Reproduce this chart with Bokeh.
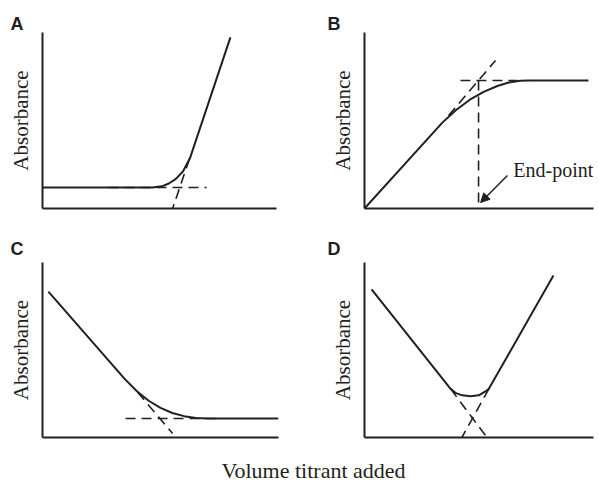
from bokeh.plotting import figure
from bokeh.layouts import column, row
from bokeh.models import Range1d, FixedTicker, Label, Arrow, NormalHead
from bokeh.embed import file_html
from bokeh.resources import INLINE

INK = "#231f20"
SERIF = "Liberation Serif"

# ---- Panel A: flat, then rising ----
A_x = [0, 47, 51, 54, 57, 60, 63, 80.3]
A_y = [11.9, 11.9, 12.6, 14.2, 16.8, 21.0, 28.5, 97.2]
A_dash_h_x = [28.2, 70.1]
A_dash_h_y = [11.9, 11.9]
A_dash_d_x = [62.8, 55.6]
A_dash_d_y = [28.2, 0]

# ---- Panel B: rising, then flat ----
B_x = [0, 34, 40, 46, 52, 58, 63, 68, 72, 97.8]
B_y = [0, 48.8, 56.0, 61.8, 66.3, 69.6, 71.6, 72.6, 72.7, 72.7]
B_dash_d_x = [36.7, 57.2]
B_dash_d_y = [52.8, 84.1]
B_dash_h_x = [41.9, 66.8]
B_dash_h_y = [72.7, 72.7]
B_dash_v_x = [49.8, 49.8]
B_dash_v_y = [72.7, 0]
B_endpoint_label = "End-point"
B_label_xy = (65.0, 22.0)
B_arrow_start = (62.4, 18.8)
B_arrow_end = (50.7, 3.4)

# ---- Panel C: falling, then flat ----
C_x = [2.5, 35, 40, 45, 50, 55, 60, 65, 70, 100]
C_y = [83.4, 33.2, 26.4, 21.0, 16.9, 14.0, 12.2, 11.2, 10.9, 10.9]
C_dash_h_x = [35.2, 74.6]
C_dash_h_y = [10.9, 10.9]
C_dash_d_x = [40.3, 55.1]
C_dash_d_y = [25.9, 2.3]

# ---- Panel D: falling, then rising ----
D_x = [3.1, 37.6, 39.7, 42.7, 46.3, 49.9, 52.8, 54.3, 82.5]
D_y = [84.6, 27.8, 25.5, 24.1, 23.6, 24.1, 26.3, 27.8, 92.6]
D_dash_l_x = [37.6, 53.5]
D_dash_l_y = [27.8, 0]
D_dash_r_x = [54.3, 42.5]
D_dash_r_y = [27.8, 0]

panel_letters = ["A", "B", "C", "D"]
y_label = "Absorbance"
x_label = "Volume titrant added"

DASH = "10 6"


def make_panel(letter, width, height, bl, br, bt, bb, title_offset, title_standoff):
    p = figure(width=width, height=height, output_backend="svg",
               toolbar_location=None, x_range=Range1d(0, 100),
               y_range=Range1d(0, 100), min_border_left=bl,
               min_border_right=br, min_border_top=bt, min_border_bottom=bb)
    p.outline_line_color = None
    p.grid.visible = False
    p.background_fill_color = "white"
    p.border_fill_color = "white"
    for ax in p.axis:
        ax.ticker = FixedTicker(ticks=[])
        ax.major_tick_line_color = None
        ax.minor_tick_line_color = None
        ax.major_tick_in = 0
        ax.major_tick_out = 0
        ax.minor_tick_in = 0
        ax.minor_tick_out = 0
        ax.major_label_text_font_size = "0px"
        ax.axis_line_width = 2
        ax.axis_line_color = INK
    p.yaxis.axis_label = y_label
    p.yaxis.axis_label_text_font = SERIF
    p.yaxis.axis_label_text_font_style = "normal"
    p.yaxis.axis_label_text_font_size = "21px"
    p.yaxis.axis_label_text_color = INK
    p.yaxis.axis_label_standoff = 10
    p.title.text = letter
    p.title.align = "left"
    p.title.offset = title_offset
    p.title.text_font = "Liberation Sans"
    p.title.text_font_style = "bold"
    p.title.text_font_size = "18px"
    p.title.text_color = INK
    p.title.standoff = title_standoff
    return p


def solid(p, x, y):
    p.line(x, y, line_width=2, line_color=INK)


def dashed(p, x, y):
    p.line(x, y, line_width=1.6, line_color=INK, line_dash=DASH)


# Row 1
pA = make_panel(panel_letters[0], 320, 232, 42, 44, 32, 23, -32, -2)
solid(pA, A_x, A_y)
dashed(pA, A_dash_h_x, A_dash_h_y)
dashed(pA, A_dash_d_x, A_dash_d_y)

pB = make_panel(panel_letters[1], 278, 232, 44, 5, 32, 24, -37, -2)
solid(pB, B_x, B_y)
dashed(pB, B_dash_d_x, B_dash_d_y)
dashed(pB, B_dash_h_x, B_dash_h_y)
dashed(pB, B_dash_v_x, B_dash_v_y)
pB.add_layout(Label(x=B_label_xy[0], y=B_label_xy[1], text=B_endpoint_label,
                    text_font=SERIF, text_font_size="20px", text_color=INK,
                    text_baseline="alphabetic", text_align="left"))
pB.add_layout(Arrow(end=NormalHead(size=9, fill_color=INK, line_color=INK),
                    x_start=B_arrow_start[0], y_start=B_arrow_start[1],
                    x_end=B_arrow_end[0], y_end=B_arrow_end[1],
                    line_width=1.5, line_color=INK))

# Row 2
pC = make_panel(panel_letters[2], 320, 216, 42, 42, 30, 11, -32, 7)
solid(pC, C_x, C_y)
dashed(pC, C_dash_h_x, C_dash_h_y)
dashed(pC, C_dash_d_x, C_dash_d_y)

pD = make_panel(panel_letters[3], 278, 216, 44, 5, 30, 11, -37, 7)
solid(pD, D_x, D_y)
dashed(pD, D_dash_l_x, D_dash_l_y)
dashed(pD, D_dash_r_x, D_dash_r_y)

# Shared x label
pL = figure(width=598, height=36, output_backend="svg", toolbar_location=None,
            x_range=Range1d(0, 598), y_range=Range1d(0, 36),
            x_axis_location=None, y_axis_location=None, min_border=0)
pL.outline_line_color = None
pL.grid.visible = False
pL.add_layout(Label(x=313, y=14, text=x_label, text_font=SERIF,
                    text_font_size="22px", text_color=INK,
                    text_align="center", text_baseline="middle"))

layout = column(row(pA, pB), row(pC, pD), pL)

with open("out.html", "w") as f:
    f.write(file_html(layout, INLINE))
